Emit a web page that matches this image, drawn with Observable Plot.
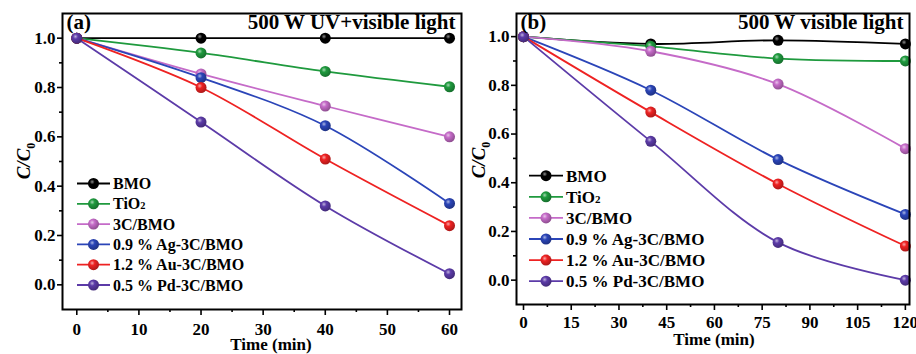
<!DOCTYPE html>
<html><head><meta charset="utf-8">
<script src="https://cdn.jsdelivr.net/npm/d3@7"></script>
<script src="https://cdn.jsdelivr.net/npm/@observablehq/plot@0.6"></script>
<style>
body{margin:0;background:#fff;}
#wrap{position:relative;width:916px;height:354px;display:flex;overflow:hidden;}
</style></head><body>
<svg width="0" height="0" style="position:absolute"><defs id="defs"></defs></svg>
<div id="wrap"></div>
<script>
const series = ["BMO","TiO2","3C/BMO","0.9 % Ag-3C/BMO","1.2 % Au-3C/BMO","0.5 % Pd-3C/BMO"];
const colors = ["#000000","#1f9a3e","#c56bc8","#2b45b8","#ee2222","#5c3ba8"];
const timeA = [0,20,40,60];
const timeB = [0,40,80,120];
const valuesA = [
  [1,1,1,1],
  [1,0.94,0.865,0.803],
  [1,0.855,0.725,0.60],
  [1,0.84,0.645,0.33],
  [1,0.80,0.51,0.24],
  [1,0.66,0.32,0.045]
];
const valuesB = [
  [1,0.97,0.985,0.97],
  [1,0.96,0.91,0.90],
  [1,0.94,0.805,0.54],
  [1,0.78,0.495,0.27],
  [1,0.69,0.395,0.14],
  [1,0.57,0.155,0.0]
];
const xTicksA = [0,10,20,30,40,50,60];
const xMinorA = [5,15,25,35,45,55];
const xTicksB = [0,15,30,45,60,75,90,105,120];
const xMinorB = [7.5,22.5,37.5,52.5,67.5,82.5,97.5,112.5];
const yTicks = [0,0.2,0.4,0.6,0.8,1.0];
const yMinor = [0.1,0.3,0.5,0.7,0.9];

const FONT = '"Liberation Serif", "Times New Roman", serif';

// sphere gradients
const defs = d3.select("#defs");
colors.forEach((c, i) => {
  const g = defs.append("radialGradient").attr("id", "ball" + i)
    .attr("cx", "38%").attr("cy", "35%").attr("r", "65%");
  const base = d3.color(c);
  const light = d3.interpolateRgb(c, "#ffffff")(i === 0 ? 0.55 : 0.6);
  const dark = i === 0 ? "#000" : base.darker(0.9).formatHex();
  g.append("stop").attr("offset", "0%").attr("stop-color", light);
  g.append("stop").attr("offset", "35%").attr("stop-color", c);
  g.append("stop").attr("offset", "100%").attr("stop-color", dark);
});

function makePanel(cfg) {
  const rows = [];
  series.forEach((s, i) => cfg.times.forEach((t, j) => rows.push({s, i, t, v: cfg.values[i][j]})));
  const txt = {fontSize: 17, fontWeight: "bold", fontFamily: FONT};
  const marks = [
    Plot.axisX({ticks: cfg.xTicks, tickSize: 6, tickPadding: cfg.xPad, strokeWidth: 1.6, label: null, ...txt}),
    Plot.axisX({ticks: cfg.xMinor, tickSize: 3, strokeWidth: 1.6, tickFormat: () => "", label: null}),
    Plot.axisY({ticks: yTicks, tickSize: 5, tickPadding: 2, strokeWidth: 1.6, tickFormat: d3.format(".1f"), label: null, ...txt}),
    Plot.axisY({ticks: yMinor, tickSize: 3, strokeWidth: 1.6, tickFormat: () => "", label: null}),
  ];
  series.forEach((s, i) => {
    const d = rows.filter(r => r.i === i);
    marks.push(Plot.line(d, {x: "t", y: "v", stroke: colors[i], strokeWidth: 1.8, curve: "catmull-rom"}));
  });
  series.forEach((s, i) => {
    const d = rows.filter(r => r.i === i);
    marks.push(Plot.dot(d, {x: "t", y: "v", r: 5.5, fill: `url(#ball${i})`, stroke: "none"}));
  });
  marks.push(Plot.frame({stroke: "black", strokeWidth: 2}));
  marks.push(Plot.text([cfg.tag], {text: d => d, frameAnchor: "top-left", textAnchor: "start", lineAnchor: "top", dx: 4, dy: 1, fontSize: 21, fontWeight: "bold", fontFamily: FONT}));
  marks.push(Plot.text([cfg.title], {text: d => d, frameAnchor: "top-right", textAnchor: "end", lineAnchor: "top", dx: -6, dy: 1, fontSize: 21, fontWeight: "bold", fontFamily: FONT}));
  const svg = Plot.plot({
    width: cfg.width, height: 354,
    marginLeft: cfg.ml, marginRight: cfg.mr, marginTop: 13, marginBottom: cfg.mb,
    x: {domain: cfg.xDomain},
    y: {domain: cfg.yDomain},
    style: {background: "white", fontFamily: FONT, fontWeight: "bold", fontSize: "17px", color: "black", overflow: "visible"},
    marks
  });
  const sel = d3.select(svg);
  // y label
  const yl = sel.append("text")
    .attr("transform", `translate(${cfg.ylx},${cfg.yly}) rotate(-90)`)
    .attr("text-anchor", "middle").attr("dy", "0.35em")
    .attr("font-family", FONT)
    .attr("font-size", 19).attr("font-weight", "bold").attr("fill", "black");
  yl.append("tspan").attr("font-style", "italic").text("C/C");
  yl.append("tspan").attr("font-size", 12).attr("dy", "0.45em").text("0");
  // x label
  sel.append("text").attr("x", cfg.xlx).attr("y", cfg.xly)
    .attr("text-anchor", "middle").attr("font-size", 17).attr("font-weight", "bold")
    .attr("font-family", FONT)
    .attr("fill", "black").text("Time (min)");
  // legend
  const lg = sel.append("g").attr("font-size", cfg.lfs).attr("font-weight", "bold")
    .attr("font-family", FONT).attr("text-anchor", "start");
  series.forEach((s, i) => {
    const y = cfg.ly0 + i * cfg.ldy;
    lg.append("line").attr("x1", cfg.lx1).attr("x2", cfg.lx2).attr("y1", y).attr("y2", y)
      .attr("stroke", colors[i]).attr("stroke-width", 1.8);
    lg.append("circle").attr("cx", (cfg.lx1 + cfg.lx2) / 2).attr("cy", y).attr("r", 5.5)
      .attr("fill", `url(#ball${i})`);
    const t = lg.append("text").attr("x", cfg.lx2 + 3).attr("y", y).attr("dy", "0.35em")
      .attr("text-anchor", "start").attr("fill", "black");
    const m = s.match(/^(TiO)(2)$/);
    if (m) {
      t.append("tspan").text(m[1]);
      t.append("tspan").attr("font-size", cfg.lfs * 0.65).text(m[2]);
    } else t.text(s);
  });
  return svg;
}

const wrap = document.getElementById("wrap");
wrap.appendChild(makePanel({
  width: 463, ml: 62, mr: 2, mb: 45,
  times: timeA, values: valuesA,
  xDomain: [-2.3, 61.93], yDomain: [-0.1, 1.1],
  xTicks: xTicksA, xMinor: xMinorA, xPad: 7,
  tag: "(a)", title: "500 W UV+visible light",
  ylx: 23, yly: 161, xlx: 271, xly: 350,
  lfs: 16, ly0: 183.5, ldy: 20.3, lx1: 77, lx2: 110
}));
wrap.appendChild(makePanel({
  width: 453, ml: 53, mr: 7, mb: 50,
  times: timeB, values: valuesB,
  xDomain: [-2.2, 121.3], yDomain: [-0.1, 1.095],
  xTicks: xTicksB, xMinor: xMinorB, xPad: 5,
  tag: "(b)", title: "500 W visible light",
  ylx: 15, yly: 160, xlx: 251, xly: 345,
  lfs: 17, ly0: 175.7, ldy: 21.1, lx1: 66, lx2: 100
}));
</script>
</body></html>
